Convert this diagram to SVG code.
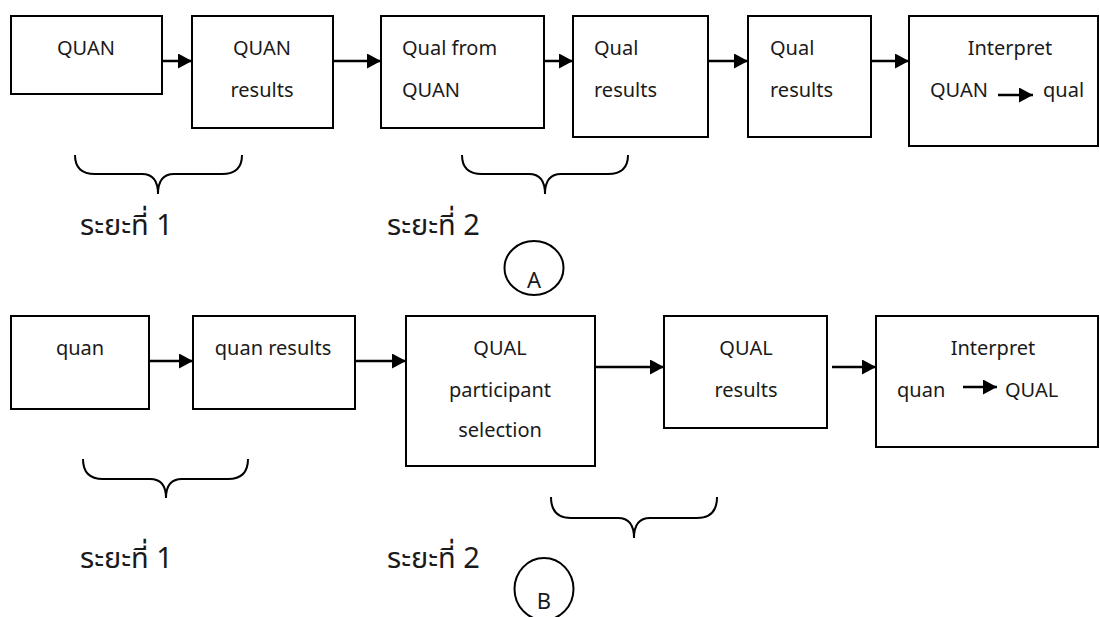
<svg xmlns="http://www.w3.org/2000/svg" width="1100" height="617" viewBox="0 0 1100 617">
<style>
.box{fill:#fff;stroke:#000;stroke-width:2}
.t{font-family:"Noto Sans","Liberation Sans",sans-serif;font-size:20px;fill:#1a1a1a}
.c{text-anchor:middle}
.lb{font-size:22px}
.th{font-family:"Noto Sans Thai","Noto Sans","DejaVu Sans",sans-serif;font-size:29px;fill:#1a1a1a}
.ln{fill:none;stroke:#000;stroke-width:2.5}
.br{fill:none;stroke:#000;stroke-width:2}
</style>
<defs>
<marker id="ah" markerUnits="userSpaceOnUse" markerWidth="15" markerHeight="15" refX="14" refY="7.5" orient="auto">
<path d="M0,0 L14,7.5 L0,15 z" fill="#000"/>
</marker>
</defs>
<rect width="1100" height="617" fill="#fff"/>

<g id="connectors">
<line class="ln" x1="162" y1="61" x2="192" y2="61" marker-end="url(#ah)"/>
<line class="ln" x1="333" y1="61" x2="381" y2="61" marker-end="url(#ah)"/>
<line class="ln" x1="544" y1="61" x2="573" y2="61" marker-end="url(#ah)"/>
<line class="ln" x1="708" y1="61" x2="748" y2="61" marker-end="url(#ah)"/>
<line class="ln" x1="871" y1="61" x2="909" y2="61" marker-end="url(#ah)"/>
<line class="ln" x1="149" y1="361" x2="193" y2="361" marker-end="url(#ah)"/>
<line class="ln" x1="355" y1="361" x2="406" y2="361" marker-end="url(#ah)"/>
<line class="ln" x1="595" y1="367" x2="664" y2="367" marker-end="url(#ah)"/>
<line class="ln" x1="832" y1="367" x2="876" y2="367" marker-end="url(#ah)"/>
</g>

<g id="n1"><rect class="box" x="11" y="16" width="151" height="78"/><text class="t c" x="86" y="55">QUAN</text></g>
<g id="n2"><rect class="box" x="192" y="16" width="141" height="112"/><text class="t c" x="262" y="55">QUAN</text><text class="t c" x="262" y="97">results</text></g>
<g id="n3"><rect class="box" x="381" y="16" width="163" height="112"/><text class="t" x="402" y="55">Qual from</text><text class="t" x="402" y="97">QUAN</text></g>
<g id="n4"><rect class="box" x="573" y="16" width="135" height="121"/><text class="t" x="594" y="55">Qual</text><text class="t" x="594" y="97">results</text></g>
<g id="n5"><rect class="box" x="748" y="16" width="123" height="121"/><text class="t" x="770" y="55">Qual</text><text class="t" x="770" y="97">results</text></g>
<g id="n6"><rect class="box" x="909" y="16" width="189" height="130"/><text class="t c" x="1010" y="55">Interpret</text><text class="t" x="930" y="97">QUAN</text><line class="ln" x1="998" y1="95" x2="1033" y2="95" marker-end="url(#ah)"/><text class="t" x="1043" y="97">qual</text></g>

<g id="braceA1"><path class="br" d="M75,155 Q75,174 95,174 L142,174 Q158,174 158,194 Q158,174 174,174 L222,174 Q242,174 242,155"/></g>
<g id="braceA2"><path class="br" d="M462,155 Q462,174 482,174 L529,174 Q545,174 545,194 Q545,174 561,174 L608,174 Q628,174 628,155"/></g>
<text class="th" x="80" y="235">ระยะที่ 1</text>
<text class="th" x="387" y="235">ระยะที่ 2</text>
<g id="labelA"><ellipse class="br" cx="534" cy="268" rx="29.5" ry="27"/><text class="t c lb" x="534" y="288">A</text></g>

<g id="m1"><rect class="box" x="11" y="316" width="138" height="93"/><text class="t c" x="80" y="355">quan</text></g>
<g id="m2"><rect class="box" x="193" y="316" width="162" height="93"/><text class="t c" x="273" y="355">quan results</text></g>
<g id="m3"><rect class="box" x="406" y="316" width="189" height="150"/><text class="t c" x="500" y="355">QUAL</text><text class="t c" x="500" y="397">participant</text><text class="t c" x="500" y="437">selection</text></g>
<g id="m4"><rect class="box" x="664" y="316" width="163" height="112"/><text class="t c" x="746" y="355">QUAL</text><text class="t c" x="746" y="397">results</text></g>
<g id="m5"><rect class="box" x="876" y="316" width="222" height="131"/><text class="t c" x="993" y="355">Interpret</text><text class="t" x="897" y="397">quan</text><line class="ln" x1="963" y1="387" x2="997" y2="387" marker-end="url(#ah)"/><text class="t" x="1005" y="397">QUAL</text></g>

<g id="braceB1"><path class="br" d="M83,459 Q83,479 103,479 L150,479 Q166,479 166,498 Q166,479 182,479 L228,479 Q248,479 248,459"/></g>
<g id="braceB2"><path class="br" d="M551,497 Q551,518 571,518 L618,518 Q634,518 634,538 Q634,518 650,518 L697,518 Q717,518 717,497"/></g>
<text class="th" x="80" y="568">ระยะที่ 1</text>
<text class="th" x="387" y="568">ระยะที่ 2</text>
<g id="labelB"><ellipse class="br" cx="544" cy="589" rx="29.5" ry="31"/><text class="t c lb" x="544" y="609">B</text></g>
</svg>
